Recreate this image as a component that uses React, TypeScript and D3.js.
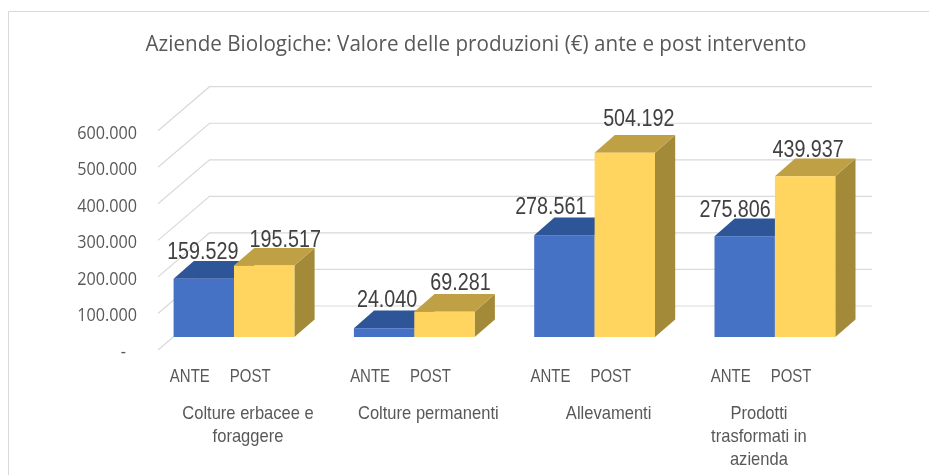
import React from "react";
import * as d3 from "d3";

const categories = [["Colture erbacee e", "foraggere"], ["Colture permanenti"], ["Allevamenti"], ["Prodotti", "trasformati in", "azienda"]];
const categoryKeys = ["Colture erbacee e foraggere", "Colture permanenti", "Allevamenti", "Prodotti trasformati in azienda"];
const series = ["ANTE", "POST"];
const anteValues = [159529, 24040, 278561, 275806];
const postValues = [195517, 69281, 504192, 439937];
const yTicks = [0, 100000, 200000, 300000, 400000, 500000, 600000];
const titleText = "Aziende Biologiche: Valore delle produzioni (€) ante e post intervento";

// hand-placed label nudges of the original, in px
const anteNudge = [[-1, -19.7], [3, -21], [-13.6, -21], [-9.6, -19.5]];
const postNudge = [[21, -18.7], [16, -22], [14, -27], [3, -19.3]];
const catNudge = [14, 14, 14, -16];

const fmt = (v: number) => (v === 0 ? "-" : d3.format(",")(v).replace(/,/g, "."));
const H = 36.55 / 100000;
const y = d3.scaleLinear().domain([0, 600000]).range([337, 337 - 600000 * H]);
const band = d3.scaleBand().domain(categoryKeys).range([143.85, 865.05]).paddingInner(0.33).paddingOuter(0.165);
const bar = d3.scaleBand().domain(series).range([0, band.bandwidth()]);

const wallDx = 51.5, wallDy = 44, leftX = 158, rightX = 872;
const depthX = 20.2, depthY = 17.6;
const colors = {
  ANTE: { front: "#4472c4", top: "#2f5597", side: "#335a9c" },
  POST: { front: "#ffd55f", top: "#bfa045", side: "#a38a38" },
};
const poly = (p: number[][]) => "M" + p.map((a) => a.join(",")).join("L") + "Z";
const sans = "'Open Sans', sans-serif";
const libre = "'Liberation Sans', sans-serif";

function Bar({ x, w, v, c }: { x: number; w: number; v: number; c: { front: string; top: string; side: string } }) {
  const t = y(v), b = y(0);
  return (
    <g>
      <path d={poly([[x + w, t], [x + w + depthX, t - depthY], [x + w + depthX, b - depthY], [x + w, b]])} fill={c.side} />
      <path d={poly([[x, t], [x + depthX, t - depthY], [x + w + depthX, t - depthY], [x + w, t]])} fill={c.top} />
      <rect x={x} y={t} width={w} height={b - t} fill={c.front} />
    </g>
  );
}

function Squeezed({ x, y: yy, sx, size, fill, children }: { x: number; y: number; sx: number; size: number; fill: string; children: string }) {
  return (
    <text transform={`translate(${x},${yy}) scale(${sx},1)`} textAnchor="middle" fontFamily={libre} fontSize={size} fill={fill}>
      {children}
    </text>
  );
}

export default function App() {
  const w = bar.bandwidth();
  return (
    <svg width={929} height={475} style={{ position: "absolute", left: 0, top: 0, background: "#fff" }}>
      <defs>
        <filter id="soft" x="0" y="0" width="100%" height="100%">
          <feGaussianBlur stdDeviation="0.35" />
        </filter>
      </defs>
      <g filter="url(#soft)">
        <path d="M8.5,475V11.5H929" fill="none" stroke="#d9d9d9" strokeWidth={1} />
        <text x={476} y={51} textAnchor="middle" fontFamily={sans} fontSize={22} fill="#595959" textLength={661} lengthAdjust="spacingAndGlyphs">{titleText}</text>
        {yTicks.map((t) => {
          const back = y(t) - (337 - 306);
          const front = back + wallDy;
          return (
            <g key={t}>
              <path d={`M${leftX},${front}L${leftX + wallDx},${back}H${rightX}`} fill="none" stroke="#d9d9d9" strokeWidth={1.2} />
              <text transform={`translate(${t === 0 ? 126 : 137},${front + 8}) scale(0.93,1)`} textAnchor="end" fontFamily={sans} fontSize={17.4} fill="#595959">{fmt(t)}</text>
            </g>
          );
        })}
        {categoryKeys.map((k, i) => {
          const x0 = band(k)!;
          return (
            <g key={k}>
              <Bar x={x0} w={w} v={anteValues[i]} c={colors.ANTE} />
              <Bar x={x0 + w} w={w} v={postValues[i]} c={colors.POST} />
            </g>
          );
        })}
        {categoryKeys.map((k, i) => {
          const x0 = band(k)!;
          return (
            <g key={k}>
              <Squeezed x={x0 + w / 2 + anteNudge[i][0]} y={y(anteValues[i]) + anteNudge[i][1]} sx={0.84} size={23.5} fill="#404040">{fmt(anteValues[i])}</Squeezed>
              <Squeezed x={x0 + w + w / 2 + postNudge[i][0]} y={y(postValues[i]) + postNudge[i][1]} sx={0.84} size={23.5} fill="#404040">{fmt(postValues[i])}</Squeezed>
              {series.map((s, j) => (
                <Squeezed key={s} x={x0 + j * w + w / 2 - 14} y={382} sx={0.81} size={18.5} fill="#595959">{s}</Squeezed>
              ))}
              {categories[i].map((line, l) => (
                <Squeezed key={line} x={x0 + w + catNudge[i]} y={419 + l * 23} sx={0.92} size={18} fill="#595959">{line}</Squeezed>
              ))}
            </g>
          );
        })}
      </g>
    </svg>
  );
}
